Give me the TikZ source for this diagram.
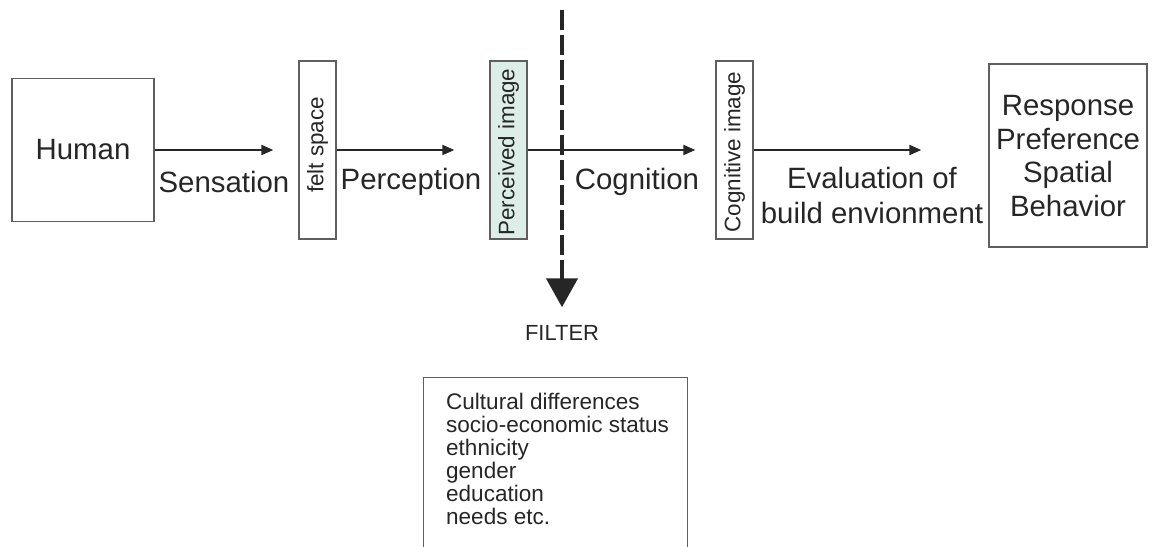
\documentclass[tikz,border=0pt]{standalone}
\usepackage{fontspec}
\setmainfont{Liberation Sans}
\usetikzlibrary{arrows.meta}
\definecolor{ink}{RGB}{38,38,38}
\definecolor{edge}{RGB}{95,95,95}
\definecolor{mint}{RGB}{221,238,232}
\begin{document}
\begin{tikzpicture}[x=1bp,y=-1bp,
  every node/.style={text=ink, inner sep=0pt},
  frame/.style={draw=edge, line width=1.3bp},
  bar/.style={frame, minimum width=37bp, minimum height=178bp},
  flow/.style={draw=ink, line width=1.8bp, -{Triangle[length=12bp,width=10bp]}},
  big/.style={font=\fontsize{29.5}{34}\selectfont},
  vert/.style={rotate=90, font=\fontsize{22.5}{24}\selectfont},
  small/.style={font=\fontsize{22.6}{23}\selectfont},
]
\useasboundingbox (0,0) rectangle (1153,547);
\clip (0,0) rectangle (1153,547);

% main chain of boxes
\node[frame, minimum width=142bp, minimum height=143bp, big] (human) at (83,150) {Human};
\node[bar] (felt) at (317.5,150) {};
\node[bar, fill=mint] (perc) at (508.5,150) {};
\node[bar] (cog) at (734.5,150) {};
\node[frame, minimum width=158bp, minimum height=183bp] (resp) at (1068,155.5) {};

% labels written inside the narrow bars
\node[vert] (feltlbl) at (317.5,145) {felt space};
\node[vert] (perclbl) at (508.5,152) {Perceived image};
\node[vert] (coglbl) at (734.5,152) {Cognitive image};

% contents of the response box
\node[big, align=center] (resplbl) at (1068,156) {Response\\Preference\\Spatial\\Behavior};

% process labels under the arrows
\node[big] (sens) at (224,182) {Sensation};
\node[big] (percep) at (411,182) {Perception};
\node[big] (cogn) at (637,182) {Cognition};
\node[big, align=center, font=\fontsize{29.5}{35}\selectfont] (evalu) at (872,195.5) {Evaluation of\\build envionment};

% arrows between the stages
\draw[flow, shorten >=25bp] (human.east) -- (felt.west);
\draw[flow, shorten >=35bp] (felt.east) -- (perc.west);
\draw[flow, shorten >=20bp] (perc.east) -- (cog.west);
\draw[flow, shorten >=67bp] (cog.east) -- (cog.east -| resp.west);

% the filter that cuts across the chain
\coordinate (ftop) at (562,10);
\node[font=\fontsize{22}{24}\selectfont] (filter) at (562,333) {FILTER};
\draw[draw=ink, line width=4.5bp, dash pattern=on 20bp off 5bp,
      -{Triangle[length=29bp,width=31bp]}, shorten >=18bp] (ftop) -- (filter.north);

% list of filter factors in an open box at the bottom
\node[frame, minimum width=264bp, minimum height=190bp, anchor=north west] (fbox) at (423,377) {};
\node[small, align=left, anchor=north west] (factors) at (446,393)
  {Cultural differences\\socio-economic status\\ethnicity\\gender\\education\\needs etc.};
\end{tikzpicture}
\end{document}
